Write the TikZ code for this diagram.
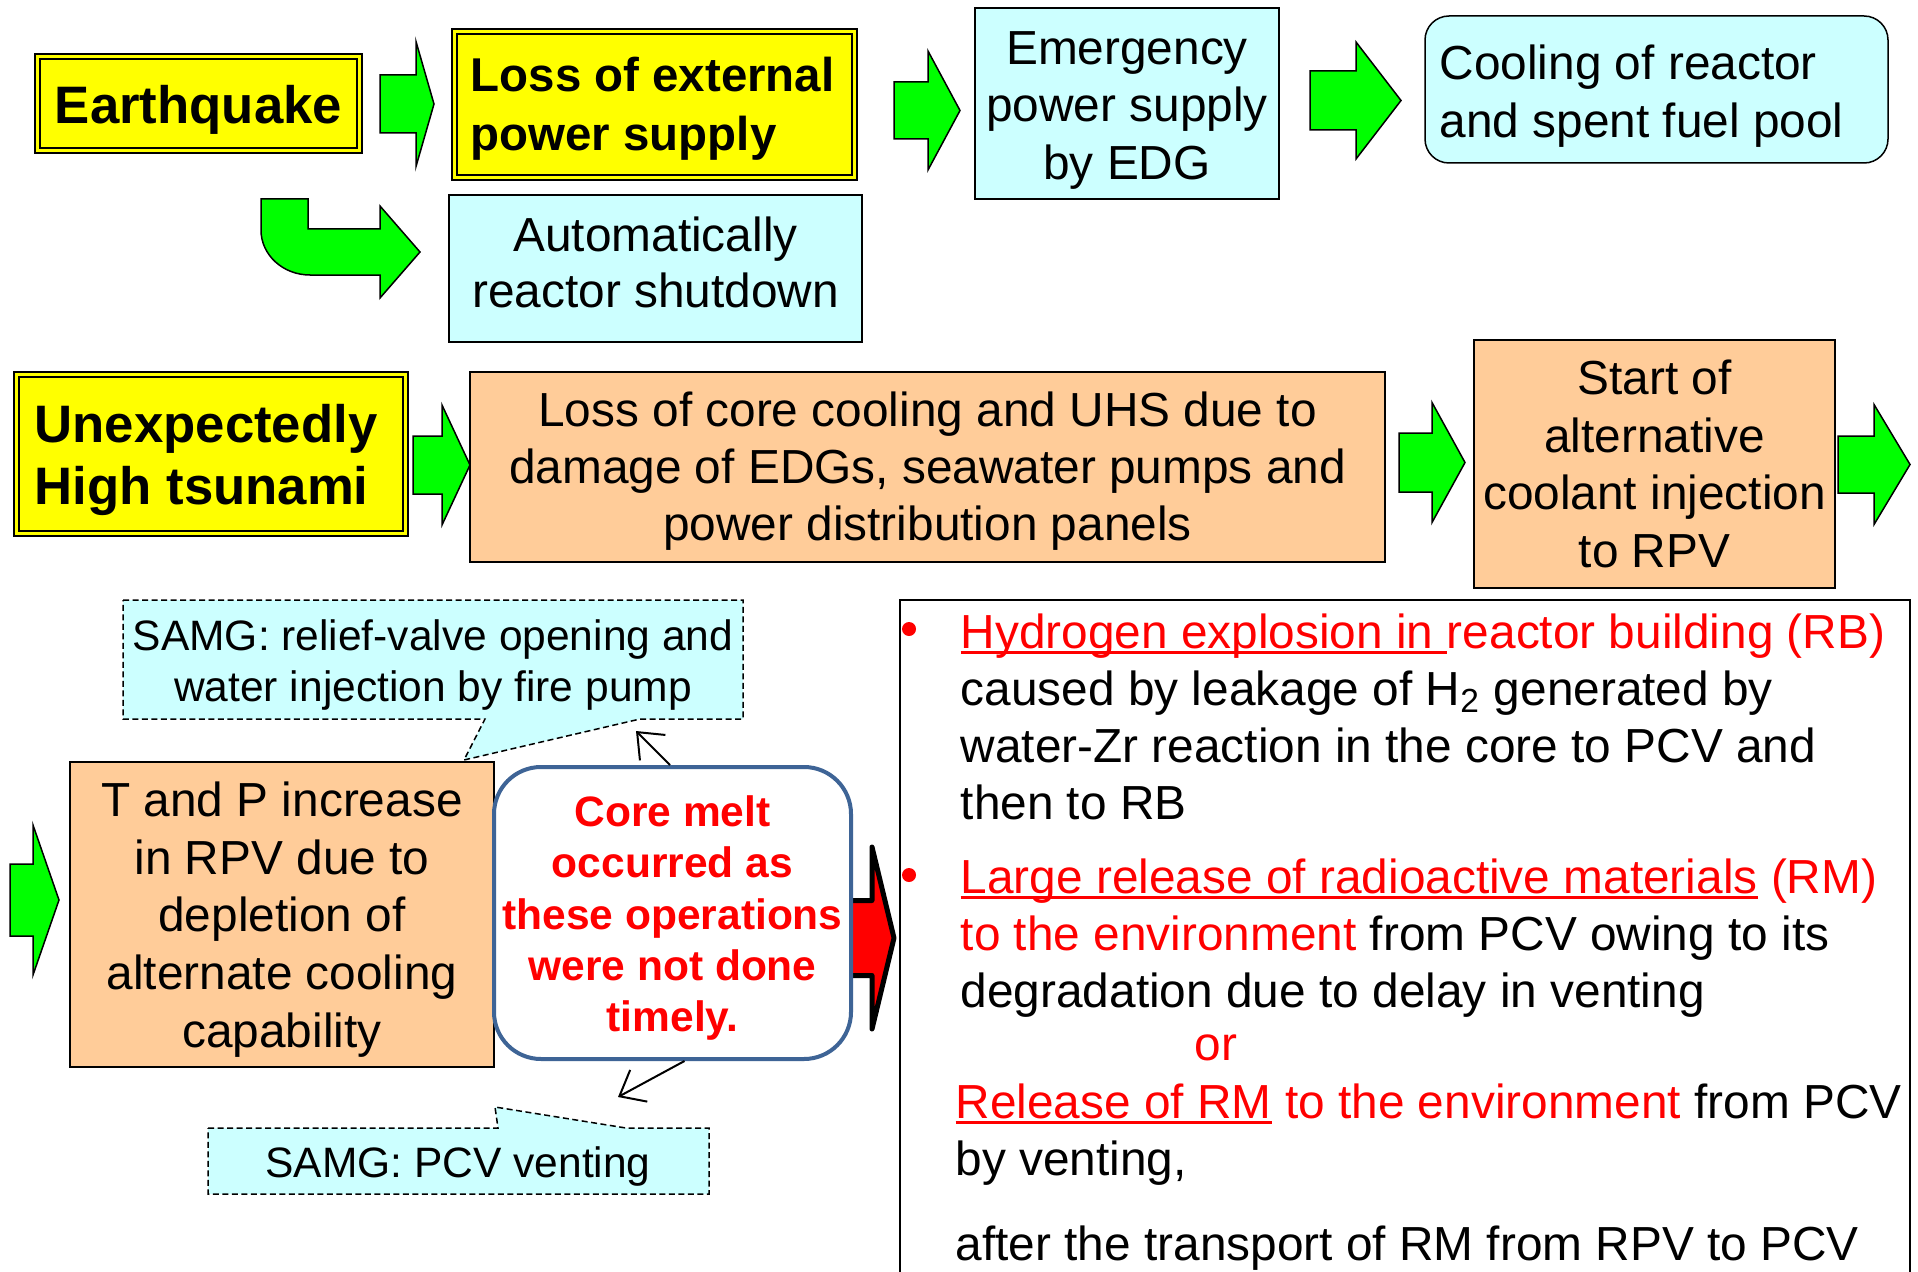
\documentclass[tikz,border=0pt]{standalone}
\usepackage{fontspec}
\setmainfont{Liberation Sans}
\usetikzlibrary{arrows.meta}

\definecolor{ylw}{RGB}{255,255,0}
\definecolor{lcyan}{RGB}{204,255,255}
\definecolor{peach}{RGB}{255,204,153}
\definecolor{grn}{RGB}{0,255,0}
\definecolor{meltblue}{RGB}{62,100,150}

% red underline that sits just under the baseline
\newsavebox\ulbox
\newcommand\redul[1]{\sbox\ulbox{#1}\rlap{\rule[-0.55mm]{\wd\ulbox}{0.25mm}}\usebox\ulbox}

% block arrow: #1 style, #2 tail x, #3 head-base x, #4 tip x, #5 centre y, #6 shaft half-height, #7 head half-height
\newcommand\blockarrow[7]{%
  \draw[#1] (#2,#5-#6) -- (#3,#5-#6) -- (#3,#5-#7) -- (#4,#5) -- (#3,#5+#7) -- (#3,#5+#6) -- (#2,#5+#6) -- cycle;}

\newcommand\fsn{\fontsize{13.6}{16.3}\selectfont}

\begin{document}
\begin{tikzpicture}[x=0.1mm,y=-0.1mm,
  every node/.style={inner sep=0pt},
  plainbox/.style={draw=black, line width=0.15mm},
  cyanbox/.style={plainbox, fill=lcyan},
  peachbox/.style={plainbox, fill=peach},
  hazard/.style={draw=black, line width=0.22mm, double=ylw, double distance=0.23mm, fill=ylw},
  garrow/.style={fill=grn, draw=black, line width=0.15mm},
  rarrow/.style={fill=red, draw=black, line width=0.5mm, line join=round},
  callout/.style={fill=lcyan, draw=black, line width=0.15mm, dash pattern=on 0.6mm off 0.35mm},
  thinarrow/.style={draw=black, line width=0.2mm, -{Straight Barb[length=2.2mm,width=3.6mm]}},
  boxtext/.style={align=center},
  linetext/.style={anchor=base west, font=\fsn}
]
\fill[white] (0,0) rectangle (1918,1272);
\useasboundingbox (0,0) rectangle (1918,1272);

% ---- first row: earthquake ----
\node[hazard, minimum width=32.2mm, minimum height=9.4mm] (quake) at (198.5,103.5) {};
\node[font=\fontsize{15}{18}\selectfont\bfseries] (quake-t) at ([yshift=-0.6mm]quake.center) {Earthquake};
\node[hazard, minimum width=40mm, minimum height=14.6mm] (lossext) at (654.5,104.5) {};
\node[anchor=west, align=left, font=\fontsize{13.5}{16.8}\selectfont\bfseries] (lossext-t)
      at (470,108.5) {Loss of external\\power supply};
\node[cyanbox, minimum width=30.4mm, minimum height=19.1mm] (edg) at (1127,103.5) {};
\node[boxtext, font=\fontsize{13.6}{16.3}\selectfont] (edg-t) at ([yshift=-0.7mm]edg.center)
      {Emergency\\power supply\\by EDG};
\node[cyanbox, rounded corners=2.4mm, minimum width=46.3mm, minimum height=14.7mm] (cool) at (1656.5,89.5) {};
\node[anchor=west, align=left, font=\fontsize{13.6}{16.5}\selectfont] (cool-t)
      at (1439,96) {Cooling of reactor\\and spent fuel pool};
\node[cyanbox, minimum width=41.3mm, minimum height=14.7mm] (shutdown) at (655.5,268.5) {};
\node[boxtext, font=\fontsize{13.6}{15.9}\selectfont] (shutdown-t) at ([yshift=0.6mm]shutdown.center)
      {Automatically\\reactor shutdown};

\blockarrow{garrow}{380}{416}{434}{104}{29}{62.5}
\blockarrow{garrow}{894}{928}{960}{110.5}{28.5}{59.5}
\blockarrow{garrow}{1310}{1356}{1401}{100.5}{29.5}{58.5}
\draw[garrow] (261,199) -- (308,199) -- (308,229) -- (380,229) -- (380,206) -- (420,252)
  -- (380,298) -- (380,275) -- (310,275) .. controls (283,275) and (261,255) .. (261,230) -- cycle;

% ---- second row: tsunami ----
\node[hazard, minimum width=38.9mm, minimum height=15.9mm] (tsunami) at (211,454) {};
\node[anchor=west, align=left, font=\fontsize{15}{17.9}\selectfont\bfseries] (tsunami-t)
      at (34,460) {Unexpectedly\\High tsunami};
\node[peachbox, minimum width=91.5mm, minimum height=19mm] (corecool) at (927.5,467) {};
\node[boxtext, font=\fsn] (corecool-t) at ([yshift=-0.4mm]corecool.center)
      {Loss of core cooling and UHS due to\\damage of EDGs, seawater pumps and\\power distribution panels};
\node[peachbox, minimum width=36.1mm, minimum height=24.8mm] (altinj) at (1654.5,464) {};
\node[boxtext, font=\fontsize{13.6}{16.4}\selectfont] (altinj-t) at (altinj.center)
      {Start of\\alternative\\coolant injection\\to RPV};

\blockarrow{garrow}{413}{442}{470}{465}{29}{60}
\blockarrow{garrow}{1399}{1432}{1465}{462.5}{29.5}{60}
\blockarrow{garrow}{1838}{1874}{1910}{464.5}{28.5}{60}

% ---- third row: severe accident management ----
\draw[callout] (123,600) -- (743,600) -- (743,719) -- (640,719) -- (464,760) -- (485,719) -- (123,719) -- cycle;
\node[boxtext, font=\fontsize{12.1}{14.6}\selectfont] (samg1) at (433,665)
      {SAMG: relief-valve opening and\\water injection by fire pump};
\draw[callout] (208,1128) -- (498,1128) -- (495,1107) -- (626,1128) -- (709,1128) -- (709,1194) -- (208,1194) -- cycle;
\node[font=\fontsize{12.1}{14.6}\selectfont] (samg2) at (458,1166) {SAMG: PCV venting};

\blockarrow{garrow}{10}{33}{59}{900}{36}{75}
\node[peachbox, minimum width=42.4mm, minimum height=30.5mm] (tp) at (282,914.5) {};
\node[boxtext, font=\fontsize{13.6}{16.4}\selectfont] (tp-t) at ([yshift=-0.5mm]tp.center)
      {T and P increase\\in RPV due to\\depletion of\\alternate cooling\\capability};

\blockarrow{rarrow}{850}{872}{894}{938}{37.5}{91}
\node[draw=meltblue, line width=0.4mm, fill=white, rounded corners=4.7mm,
      minimum width=35.7mm, minimum height=29.2mm] (melt) at (672.5,913) {};
\node[boxtext, text=red, font=\fontsize{12.1}{14.6}\selectfont\bfseries] (melt-t)
      at ([yshift=-0.5mm]melt.center)
      {Core melt\\occurred as\\these operations\\were not done\\timely.};

\coordinate (up-end) at (636,731);
\coordinate (down-end) at (618,1097);
\draw[thinarrow] ([xshift=-0.25mm]melt.north) -- (up-end);
\draw[thinarrow] ([xshift=1.2mm]melt.south) -- (down-end);

% ---- consequences ----
\node[draw=black, line width=0.15mm, minimum width=101mm, minimum height=70mm] (outcome) at (1405,950) {};
\node[circle, fill=red, minimum size=1.4mm] (bul1) at (909,629) {};
\node[circle, fill=red, minimum size=1.4mm] (bul2) at (909,875) {};

\node[linetext] (o1) at (960,648) {\color{red}\redul{Hydrogen explosion in }reactor building (RB)};
\node[linetext] (o2) at (960,705) {caused by leakage of H\textsubscript{2} generated by};
\node[linetext] (o3) at (960,762) {water-Zr reaction in the core to PCV and};
\node[linetext] (o4) at (960,819) {then to RB};
\node[linetext] (o5) at (960,893) {\color{red}\redul{Large release of radioactive materials} (RM)};
\node[linetext] (o6) at (960,950) {{\color{red}to the environment} from PCV owing to its};
\node[linetext] (o7) at (960,1007) {degradation due to delay in venting};
\node[anchor=base, font=\fsn, text=red] (or) at (1216,1060) {or};
\node[linetext] (o8) at (955,1118) {{\color{red}\redul{Release of RM} to the environment} from PCV};
\node[linetext] (o9) at (955,1175) {by venting,};
\node[linetext] (o10) at (955,1260) {after the transport of RM from RPV to PCV};
\end{tikzpicture}
\end{document}
